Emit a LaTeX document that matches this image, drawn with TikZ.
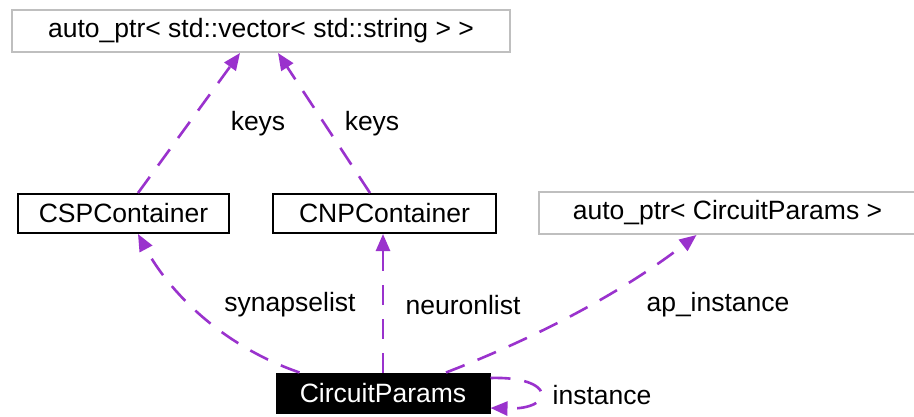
\documentclass[tikz,border=0pt]{standalone}
\usepackage{fontspec}
\setmainfont{Liberation Sans}
\usetikzlibrary{arrows.meta}
\definecolor{edgepurple}{HTML}{9A32CD}
\definecolor{boxgray}{HTML}{BFBFBF}
\begin{document}
\begin{tikzpicture}[x=1pt,y=-1pt,
  every node/.style={font=\fontsize{26.5}{30}\selectfont, inner sep=0pt},
  classbox/.style={draw=black, line width=2pt, fill=white, minimum height=39pt},
  extbox/.style={draw=boxgray, line width=2pt, fill=white, minimum height=42pt},
  mainbox/.style={draw=black, fill=black, text=white, line width=1pt, minimum height=40pt, minimum width=214pt},
  uses/.style={draw=edgepurple, line width=2.6pt, dash pattern=on 20pt off 14pt,
    -{Triangle[length=17pt,width=14pt]}},
  elabel/.style={text=black}
]
\useasboundingbox (0,0) rectangle (914,416);
\fill[white] (0,0) rectangle (914,416);

\node[extbox, minimum width=498pt] (vec) at (261,31) {auto\_ptr< std::vector< std::string > >};
\node[classbox, minimum width=211pt] (csp) at (123.5,213.5) {CSPContainer};
\node[classbox, minimum width=223pt] (cnp) at (384.5,213.5) {CNPContainer};
\node[extbox, minimum width=377pt] (apc) at (727.5,213) {auto\_ptr< CircuitParams >};
\node[mainbox] (cp) at (383,393) {CircuitParams};

% keys edges
\draw[uses] ([xshift=14.5pt]csp.north) -- ([xshift=-21pt]vec.south);
\draw[uses] ([xshift=-14.5pt]cnp.north) -- ([xshift=17pt]vec.south);
\node[elabel] (k1) at (258,124) {keys};
\node[elabel] (k2) at (372,124) {keys};

% synapselist
\draw[uses] ([xshift=24pt]cp.north west) .. controls (220,345) and (168,290) .. ([xshift=14.5pt]csp.south);
\node[elabel] (syn) at (290,305) {synapselist};

% neuronlist
\draw[uses] (cp.north) -- (cp.north |- cnp.south);
\node[elabel] (neu) at (463,305) {neuronlist};

% ap_instance
\draw[uses] ([xshift=63pt]cp.north) .. controls (525,342) and (615,298) .. ([xshift=-31pt]apc.south);
\node[elabel] (api) at (718,305) {ap\_instance};

% instance self loop
\draw[uses] ([yshift=15pt]cp.east) .. controls (556,376) and (556,410) .. ([yshift=-15pt]cp.east);
\node[elabel] (ins) at (602,395) {instance};
\end{tikzpicture}
\end{document}
